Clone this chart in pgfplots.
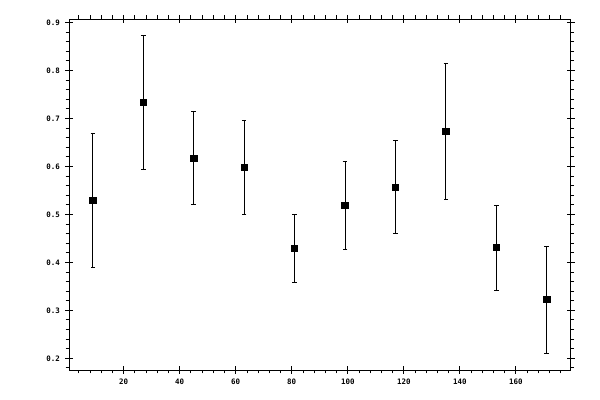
\documentclass[border=0pt]{standalone}
\usepackage{fontspec}
\setmonofont{DejaVu Sans Mono}
\usepackage{pgfplots}
\pgfplotsset{compat=1.18}

\pgfplotstableread{
x    y      ep     em
9    0.529  0.140  0.139
27   0.733  0.140  0.139
45   0.617  0.098  0.096
63   0.598  0.098  0.099
81   0.429  0.071  0.070
99   0.519  0.091  0.092
117  0.556  0.098  0.096
135  0.673  0.142  0.142
153  0.431  0.088  0.089
171  0.323  0.110  0.113
}\datatable

\begin{document}
\begin{tikzpicture}
\begin{axis}[
    scale only axis,
    width=501.5bp, height=351bp,
    xmin=0.5, xmax=179.5,
    ymin=0.1756, ymax=0.907,
    axis line style={line width=0.8bp},
    xtick={20,40,...,160},
    ytick={0.2,0.3,0.4,0.5,0.6,0.7,0.8,0.9},
    minor xtick={4,8,...,176},
    minor ytick={0.18,0.20,0.22,0.24,0.26,0.28,0.30,0.32,0.34,0.36,0.38,0.40,0.42,0.44,0.46,0.48,0.50,0.52,0.54,0.56,0.58,0.60,0.62,0.64,0.66,0.68,0.70,0.72,0.74,0.76,0.78,0.80,0.82,0.84,0.86,0.88,0.90},
    tick align=outside,
    major tick length=4bp,
    minor tick length=3.5bp,
    tick style={black, line width=0.8bp},
    extra x ticks={20,40,...,160},
    extra y ticks={0.2,0.3,0.4,0.5,0.6,0.7,0.8,0.9},
    extra x tick labels={},
    extra y tick labels={},
    extra tick style={tick align=inside, major tick length=4bp},
    tick label style={font=\fontsize{7.5}{8}\selectfont\ttfamily\bfseries},
    /pgf/number format/assume math mode=true,
    yticklabel style={/pgf/number format/fixed, /pgf/number format/fixed zerofill, /pgf/number format/precision=1, xshift=-1.5bp},
    xticklabel style={yshift=-1bp},
]
\addplot[only marks, mark=square*, mark size=3.2bp, mark options={black, line width=0.6bp},
    error bars/.cd, y dir=both, y explicit,
    error bar style={black, line width=0.8bp},
    error mark=|, error mark options={mark size=2.3bp, line width=0.8bp, black}]
    table[x=x, y=y, y error plus=ep, y error minus=em] {\datatable};
\end{axis}
\pgfresetboundingbox
\path[use as bounding box] ([shift={(-69bp,-30bp)}]current axis.south west) rectangle ([shift={(29.5bp,19bp)}]current axis.north east);
\end{tikzpicture}
\end{document}
